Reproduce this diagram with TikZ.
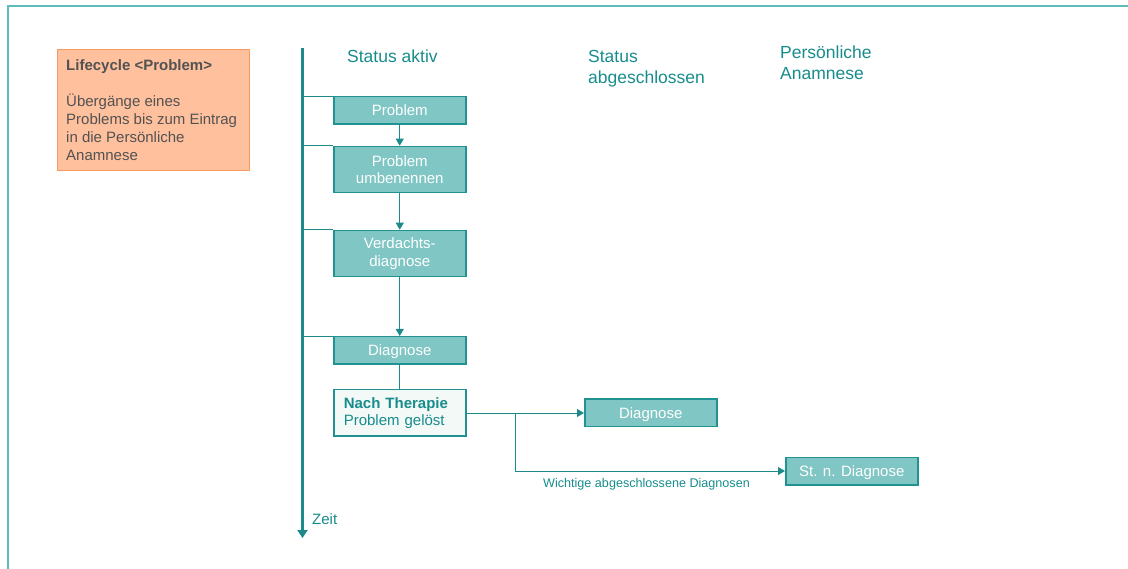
\documentclass[tikz,border=0pt]{standalone}
\usepackage{fontspec}
\setmainfont{Liberation Sans}
\usetikzlibrary{arrows.meta}
\definecolor{frameteal}{RGB}{95,188,188}
\definecolor{tealtext}{RGB}{24,140,140}
\definecolor{tealline}{RGB}{28,138,138}
\definecolor{boxfill}{RGB}{127,198,196}
\definecolor{boxedge}{RGB}{32,146,146}
\definecolor{notefill}{RGB}{255,192,158}
\definecolor{noteedge}{RGB}{246,156,98}
\definecolor{notetext}{RGB}{82,82,82}
\definecolor{donefill}{RGB}{242,249,247}
\tikzset{
  stagebox/.style={draw=boxedge, line width=1.5pt, fill=boxfill, text=white,
    minimum width=132pt, inner sep=0pt, align=center,
    font=\fontsize{15}{17.5}\selectfont},
  onerow/.style={minimum height=27.5pt, text height=11pt, text depth=0pt},
  tworow/.style={minimum height=46pt},
  header/.style={text=tealtext, inner sep=0pt, align=left,
    font=\fontsize{17.5}{21}\selectfont},
  flow/.style={draw=tealline, line width=0.9pt},
  flowarrow/.style={flow, -{Triangle[width=8pt,length=7pt]}},
}
\begin{document}
\begin{tikzpicture}[x=1pt,y=-1pt]
  \useasboundingbox (0,0) rectangle (1128,569);

  % page frame (top and left edges)
  \draw[frameteal, line width=2pt] (8,569) -- (8,6.5) -- (1128,6.5);

  % legend box
  \node[draw=noteedge, line width=1.5pt, fill=notefill, anchor=north west,
        minimum width=192pt, minimum height=121pt, inner sep=0pt] (legend) at (56.5,49) {};
  \node[anchor=north west, inner sep=0pt, align=left, text=notetext,
        font=\fontsize{15}{18}\selectfont] (legendtext) at (66,59.5)
        {\textbf{Lifecycle <Problem>}\\[18pt]Übergänge eines\\Problems bis zum Eintrag\\in die Persönliche\\Anamnese};

  % column headers
  \node[header, anchor=base west] (hactive) at (347,62.7) {Status aktiv};
  \node[header, anchor=north west] (hclosed) at (588,50) {Status\\abgeschlossen};
  \node[header, anchor=north west] (hhist) at (780,46) {Persönliche\\Anamnese};

  % time axis
  \coordinate (ttop) at (302.5,48);
  \coordinate (tend) at (302.5,538);
  \draw[tealline, line width=3pt, -{Triangle[width=10pt,length=8pt]}] (ttop) -- (tend);
  \node[anchor=base west, inner sep=0pt, text=tealtext,
        font=\fontsize{15}{18}\selectfont] (zeit) at (312,524) {Zeit};

  % stages while active
  \node[stagebox, onerow, anchor=north west] (p1) at (333,96) {Problem};
  \node[stagebox, tworow, anchor=north west] (p2) at (333,145.7) {Problem\\umbenennen};
  \node[stagebox, tworow, anchor=north west] (p3) at (333,229.7) {Verdachts-\\diagnose};
  \node[stagebox, onerow, anchor=north west] (p4) at (333,336) {Diagnose};
  \node[draw=boxedge, line width=1.5pt, fill=donefill, text=tealtext,
        minimum width=132pt, minimum height=46.5pt, text width=112pt,
        inner xsep=10pt, inner ysep=0pt, align=left, anchor=north west,
        font=\fontsize{15}{17}\selectfont] (p5) at (333,389)
        {\textbf{Nach Therapie}\\Problem gelöst};

  % closed and history stages
  \node[stagebox, onerow, anchor=north west] (c1) at (584,398.5) {Diagnose};
  \node[stagebox, onerow, anchor=north west] (h1) at (785,456.5) {St. n. Diagnose};

  % ticks from the time axis to each stage
  \foreach \n in {p1,p2,p3,p4}
    \draw[flow] (ttop |- \n.north west) -- (\n.north west);

  % transitions
  \draw[flowarrow] (p1) -- (p2);
  \draw[flowarrow] (p2) -- (p3);
  \draw[flowarrow] (p3) -- (p4);
  \draw[flow] (p4) -- (p5);
  \draw[flowarrow] (p5.east |- c1.west) -- (c1.west);
  \coordinate (fork) at (515,0);
  \draw[flowarrow] (fork |- c1.west) -- (fork |- h1.west) -- (h1.west);
  \node[text=tealtext, inner sep=0pt, font=\fontsize{12.6}{15}\selectfont,
        anchor=base] (wlabel) at (646.5,487.5) {Wichtige abgeschlossene Diagnosen};
\end{tikzpicture}
\end{document}
